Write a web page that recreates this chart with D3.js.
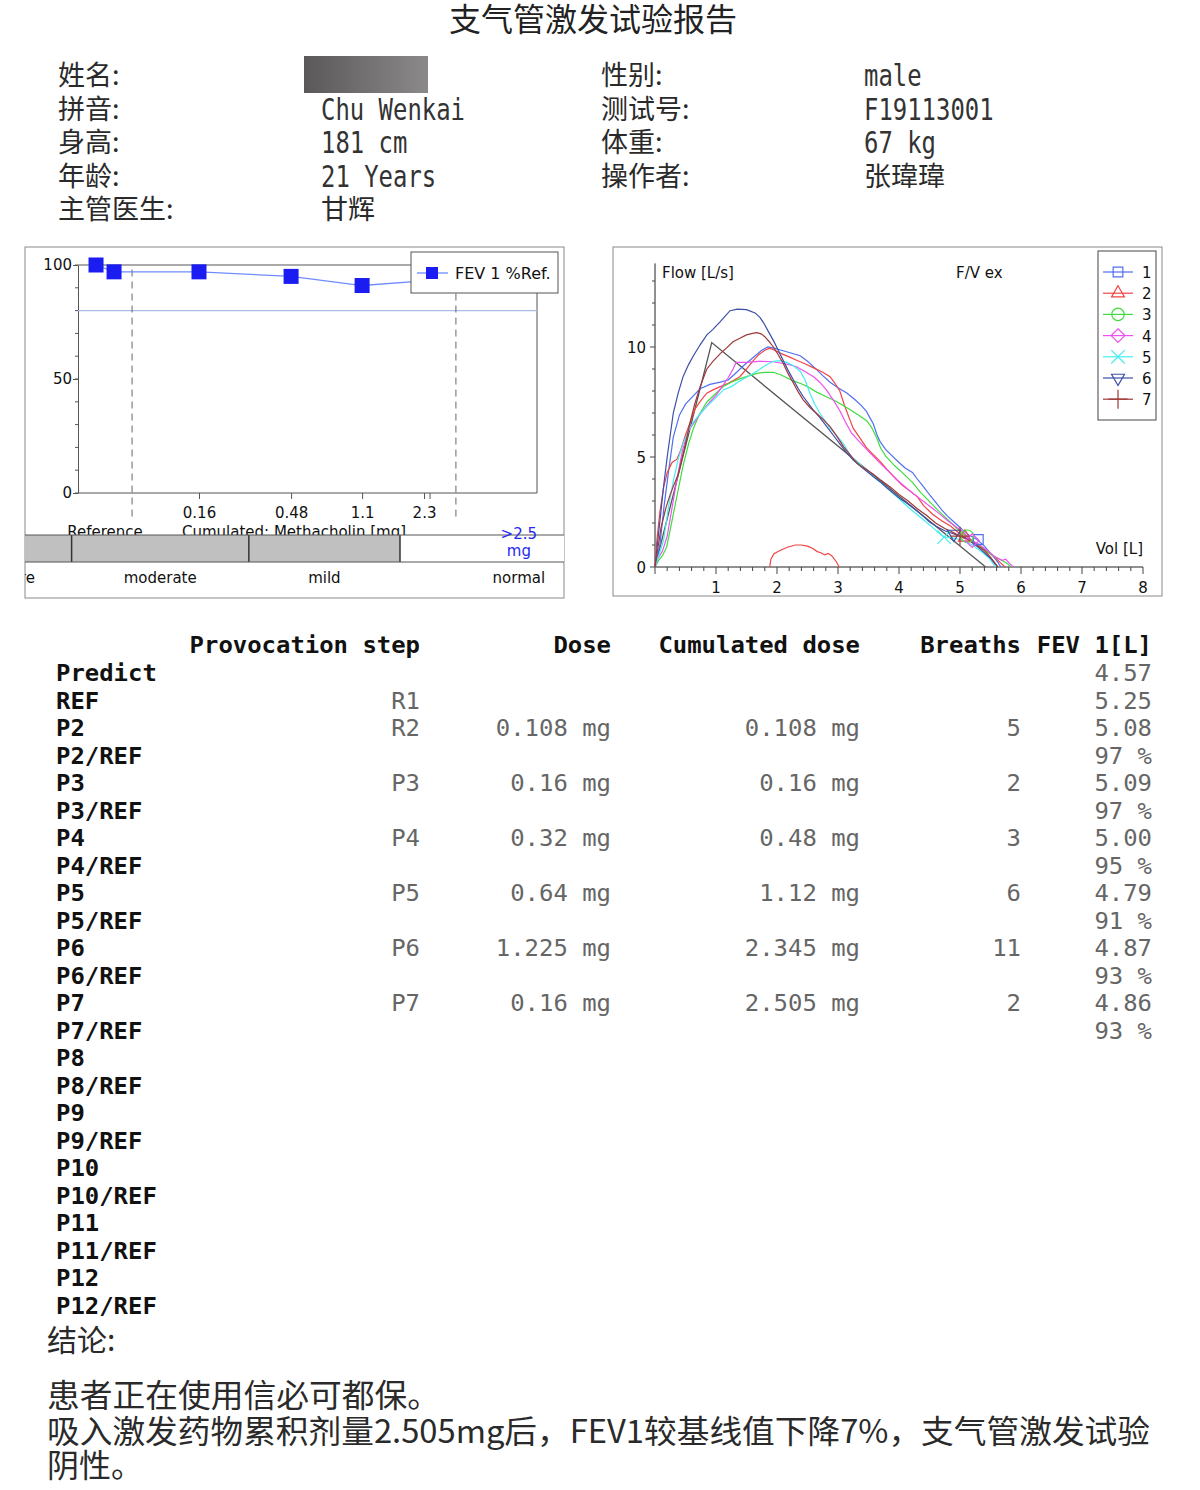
<!DOCTYPE html>
<html>
<head>
<meta charset="utf-8">
<script src="https://cdn.jsdelivr.net/npm/d3@7"></script>
<style>
body { margin: 0; background: #fff; }
</style>
</head>
<body>
<svg id="page" width="1200" height="1490"></svg>
<script>
// ---- data ----
var title = "支气管激发试验报告";
var infoLeft = [["姓名:", null], ["拼音:", "Chu Wenkai"], ["身高:", "181 cm"], ["年龄:", "21 Years"], ["主管医生:", "甘辉"]];
var infoRight = [["性别:", "male"], ["测试号:", "F19113001"], ["体重:", "67 kg"], ["操作者:", "张瑋瑋"]];

var fevPredict = 4.57;
var stepCodes = ["R1", "R2", "P3", "P4", "P5", "P6", "P7"];
var stepDose = [null, 0.108, 0.16, 0.32, 0.64, 1.225, 0.16];
var stepCumDose = [null, 0.108, 0.16, 0.48, 1.12, 2.345, 2.505];
var stepBreaths = [null, 5, 2, 3, 6, 11, 2];
var stepFev1 = [5.25, 5.08, 5.09, 5.00, 4.79, 4.87, 4.86];
var stepPctRef = [100, 97, 97, 95, 91, 93, 93];
var rowNames = ["Predict", "REF", "P2", "P2/REF", "P3", "P3/REF", "P4", "P4/REF", "P5", "P5/REF",
    "P6", "P6/REF", "P7", "P7/REF", "P8", "P8/REF", "P9", "P9/REF", "P10", "P10/REF",
    "P11", "P11/REF", "P12", "P12/REF"];
var tableHead = ["Provocation step", "Dose", "Cumulated dose", "Breaths", "FEV 1[L]"];

// dose axis of the left chart
var doseTicks = [0.16, 0.48, 1.12, 2.345, 2.505];
var doseTickLabels = ["0.16", "0.48", "1.1", "2.3", ""];
var zoneBreaks = [0.072, 3.43];            // reference zone | tested | beyond
var gradeNames = ["severe", "moderate", "mild", "normal"];
var gradeBounds = [0.008, 0.035, 0.29, 1.76, 30];
var limitPct = 80;

// flow volume loops (vol L, flow L/s)
var loopNames = ["1", "2", "3", "4", "5", "6", "7"];
var loopColors = ["#4f6ff0", "#f04545", "#3fdc3f", "#f050f0", "#45eeee", "#3d4fa8", "#a03838"];
var loop1 = [[0,0],[0.08,1.0],[0.15,2.8],[0.22,4.3],[0.3,5.9],[0.4,6.9],[0.5,7.4],[0.6,7.7],[0.74,8.1],[0.9,8.3],[1.07,8.4],[1.2,8.5],[1.3,8.75],[1.45,9.15],[1.6,9.5],[1.75,9.85],[1.85,10.0],[1.95,9.95],[2.07,9.85],[2.2,9.75],[2.38,9.6],[2.5,9.35],[2.62,9.05],[2.75,8.7],[2.87,8.4],[3.0,8.15],[3.15,7.9],[3.28,7.6],[3.38,7.35],[3.46,7.1],[3.52,6.8],[3.58,6.5],[3.64,6.0],[3.69,5.7],[3.78,5.35],[3.87,5.1],[4.0,4.75],[4.1,4.5],[4.22,4.3],[4.3,4.0],[4.4,3.65],[4.51,3.25],[4.6,2.95],[4.7,2.6],[4.8,2.3],[4.92,2.0],[5.04,1.7],[5.15,1.45],[5.28,1.25],[5.4,0.95],[5.51,0.6],[5.6,0.3],[5.67,0]];
var loop2 = [[0,0],[0.03,1.2],[0.08,2.5],[0.14,3.6],[0.2,4.3],[0.28,4.75],[0.36,4.9],[0.42,5.3],[0.5,6.0],[0.58,6.6],[0.66,7.2],[0.76,7.6],[0.85,7.9],[0.95,8.05],[1.07,8.2],[1.2,8.35],[1.3,8.5],[1.39,8.65],[1.5,9.0],[1.6,9.35],[1.7,9.65],[1.8,9.85],[1.88,9.95],[1.96,9.85],[2.07,9.7],[2.2,9.55],[2.32,9.4],[2.45,9.25],[2.6,9.05],[2.75,8.85],[2.87,8.65],[2.95,8.35],[3.03,8.0],[3.1,7.4],[3.18,6.8],[3.25,6.3],[3.35,5.9],[3.46,5.45],[3.58,5.1],[3.69,4.8],[3.8,4.45],[3.92,4.1],[4.04,3.75],[4.18,3.45],[4.3,3.2],[4.4,2.8],[4.55,2.4],[4.7,2.1],[4.85,1.85],[5.0,1.5],[5.08,1.35],[5.2,1.2],[5.3,1.0],[5.42,0.75],[5.57,0.45],[5.66,0.2],[5.74,0]];
var loop3 = [[0,0],[0.06,0.3],[0.12,0.5],[0.19,0.9],[0.25,1.7],[0.3,2.4],[0.38,3.5],[0.46,4.6],[0.55,5.6],[0.63,6.3],[0.72,6.9],[0.85,7.5],[1.0,7.9],[1.12,8.2],[1.25,8.4],[1.39,8.55],[1.55,8.7],[1.67,8.8],[1.8,8.85],[1.94,8.85],[2.05,8.75],[2.16,8.6],[2.27,8.45],[2.38,8.35],[2.5,8.2],[2.65,7.95],[2.8,7.75],[2.92,7.6],[3.05,7.4],[3.2,7.15],[3.34,6.9],[3.47,6.65],[3.55,6.35],[3.63,5.9],[3.7,5.4],[3.78,5.05],[3.93,4.6],[4.05,4.3],[4.22,3.85],[4.35,3.4],[4.51,2.95],[4.65,2.55],[4.8,2.15],[4.95,1.75],[5.1,1.4],[5.25,1.1],[5.39,0.8],[5.55,0.5],[5.69,0.3],[5.78,0.15],[5.83,0]];
var loop4 = [[0,0],[0.05,0.4],[0.12,0.7],[0.2,1.4],[0.28,2.7],[0.36,4.0],[0.45,5.3],[0.55,6.2],[0.65,6.6],[0.78,7.1],[0.9,7.5],[1.0,7.8],[1.1,8.2],[1.2,8.6],[1.28,9.0],[1.33,9.3],[1.5,9.3],[1.7,9.35],[1.94,9.33],[2.1,9.25],[2.2,9.2],[2.32,9.1],[2.45,8.9],[2.6,8.65],[2.7,8.4],[2.81,8.05],[2.92,7.6],[3.03,7.1],[3.12,6.6],[3.22,6.1],[3.35,5.7],[3.52,5.2],[3.66,4.8],[3.81,4.4],[3.95,4.0],[4.16,3.5],[4.3,3.2],[4.51,2.75],[4.65,2.45],[4.8,2.1],[4.95,1.8],[5.05,1.6],[5.16,1.25],[5.3,1.05],[5.45,0.75],[5.58,0.45],[5.69,0.3],[5.75,0.35],[5.8,0.2],[5.87,0]];
var loop5 = [[0,0],[0.06,0.5],[0.14,1.2],[0.22,2.7],[0.3,3.9],[0.38,4.9],[0.46,5.6],[0.55,6.2],[0.63,6.6],[0.75,7.0],[0.85,7.3],[1.0,7.7],[1.12,8.05],[1.25,8.2],[1.39,8.45],[1.55,8.7],[1.67,8.9],[1.8,9.15],[1.94,9.35],[2.05,9.38],[2.16,9.3],[2.27,9.15],[2.38,8.9],[2.46,8.5],[2.54,7.9],[2.62,7.4],[2.7,7.0],[2.8,6.6],[2.87,6.3],[3.0,5.9],[3.09,5.6],[3.22,5.0],[3.31,4.8],[3.45,4.45],[3.63,4.0],[3.8,3.6],[4.04,3.0],[4.2,2.6],[4.4,2.15],[4.55,1.8],[4.69,1.45],[4.74,1.36],[4.85,1.35],[5.0,1.25],[5.2,1.0],[5.35,0.7],[5.48,0.4],[5.58,0]];
var loop6 = [[0,0],[0.05,1.3],[0.1,2.6],[0.14,3.65],[0.2,5.0],[0.25,6.0],[0.3,7.0],[0.38,7.9],[0.46,8.65],[0.55,9.2],[0.63,9.6],[0.74,10.1],[0.85,10.55],[0.95,10.8],[1.07,11.15],[1.15,11.4],[1.23,11.65],[1.35,11.72],[1.5,11.7],[1.64,11.55],[1.72,11.35],[1.78,11.1],[1.86,10.7],[1.94,10.3],[2.02,9.85],[2.1,9.4],[2.18,8.95],[2.27,8.5],[2.35,8.1],[2.43,7.75],[2.59,7.15],[2.7,6.8],[2.81,6.4],[2.92,6.0],[3.03,5.6],[3.14,5.2],[3.25,4.86],[3.36,4.6],[3.47,4.35],[3.58,4.1],[3.69,3.88],[3.8,3.6],[3.91,3.35],[4.02,3.1],[4.13,2.9],[4.27,2.6],[4.4,2.3],[4.5,2.05],[4.61,1.85],[4.75,1.65],[4.9,1.5],[5.0,1.4],[5.1,1.3],[5.2,1.1],[5.3,0.9],[5.4,0.65],[5.5,0.4],[5.57,0.15],[5.62,0]];
var loop7 = [[0,0],[0.05,0.9],[0.1,1.8],[0.18,2.7],[0.25,3.3],[0.32,3.8],[0.38,4.2],[0.44,4.9],[0.5,5.6],[0.57,6.5],[0.65,7.4],[0.74,8.2],[0.85,9.0],[0.95,9.35],[1.07,9.7],[1.17,9.95],[1.28,10.24],[1.39,10.4],[1.5,10.55],[1.6,10.62],[1.67,10.65],[1.74,10.6],[1.8,10.47],[1.87,10.25],[1.94,10.0],[2.02,9.65],[2.1,9.26],[2.18,8.8],[2.27,8.35],[2.35,7.95],[2.43,7.6],[2.54,7.25],[2.65,6.98],[2.76,6.7],[2.87,6.38],[2.98,5.95],[3.09,5.47],[3.2,5.1],[3.31,4.71],[3.45,4.45],[3.58,4.22],[3.7,3.95],[3.85,3.65],[4.0,3.3],[4.15,3.0],[4.3,2.65],[4.45,2.35],[4.6,2.0],[4.75,1.75],[4.9,1.55],[5.0,1.4],[5.12,1.25],[5.25,1.05],[5.4,0.75],[5.5,0.45],[5.58,0.15],[5.62,0]];
var loopMarkers = [[5.3,1.25],[5.08,1.35],[5.12,1.4],[5.2,1.2],[4.74,1.36],[4.9,1.5],[5.0,1.4]];
var predictedLoop = [[0,0],[0.93,10.2],[5.42,0]];
var inspBlip = [[1.88,0],[1.9,0.35],[1.95,0.6],[2.05,0.75],[2.17,0.9],[2.3,1.0],[2.4,1.0],[2.5,0.95],[2.58,0.85],[2.66,0.7],[2.72,0.65],[2.78,0.55],[2.84,0.62],[2.9,0.5],[2.97,0.25],[3.02,0]];
var loops = [loop1, loop2, loop3, loop4, loop5, loop6, loop7];

var conclusionHead = "结论:";
var conclusionLines = ["患者正在使用信必可都保。",
    "吸入激发药物累积剂量2.505mg后，FEV1较基线值下降7%，支气管激发试验",
    "阴性。"];

// ---- fonts ----
var CJK = '"Noto Sans CJK SC", sans-serif';
var MONO = '"DejaVu Sans Mono", monospace';
var SANS = '"DejaVu Sans", Verdana, sans-serif';

var svg = d3.select("#page");
svg.append("rect").attr("width", 1200).attr("height", 1490).attr("fill", "#fff");
var defs = svg.append("defs");

// condensed mono text like the report print
function monoText(g, str, x, y, size, charW, anchor) {
    return g.append("text").attr("x", x).attr("y", y)
        .attr("font-family", MONO).attr("font-size", size)
        .attr("text-anchor", anchor || "start")
        .attr("textLength", str.length * charW).attr("lengthAdjust", "spacingAndGlyphs")
        .text(str);
}

// ---- title + patient info ----
svg.append("text").attr("x", 593).attr("y", 31).attr("text-anchor", "middle")
    .attr("font-family", CJK).attr("font-size", 32).attr("fill", "#222").text(title);

var rowY = [75, 109, 142, 176, 209];
var grad = defs.append("linearGradient").attr("id", "redact");
grad.append("stop").attr("offset", "0%").attr("stop-color", "#5a5858");
grad.append("stop").attr("offset", "100%").attr("stop-color", "#8b8989");

function infoBlock(rows, xLab, xVal) {
    rows.forEach(function (r, i) {
        svg.append("text").attr("x", xLab).attr("y", rowY[i] + 10)
            .attr("font-family", CJK).attr("font-size", 27).attr("fill", "#2a2a2a").text(r[0]);
        if (r[1] === null) {
            svg.append("rect").attr("x", xVal - 17).attr("y", rowY[i] - 19)
                .attr("width", 124).attr("height", 37).attr("fill", "url(#redact)");
        } else if (/[\u4e00-\u9fff]/.test(r[1])) {
            svg.append("text").attr("x", xVal).attr("y", rowY[i] + 10)
                .attr("font-family", CJK).attr("font-size", 27).attr("fill", "#2a2a2a").text(r[1]);
        } else {
            monoText(svg, r[1], xVal, rowY[i] + 11, 30, 14.4).attr("fill", "#333");
        }
    });
}
infoBlock(infoLeft, 58, 321);
infoBlock(infoRight, 601, 864);

// ---- left chart: FEV1 %Ref vs cumulated dose ----
var lc = svg.append("g");
defs.append("clipPath").attr("id", "lclip").append("rect")
    .attr("x", 25).attr("y", 247).attr("width", 539).attr("height", 351);
lc.append("rect").attr("x", 25).attr("y", 247).attr("width", 539).attr("height", 351)
    .attr("fill", "#fff").attr("stroke", "#8a8a8a");

var yPct = d3.scaleLinear().domain([0, 100]).range([493, 265]);
var xDose = d3.scaleLog().domain([0.16, 1.6]).range([199, 392]);
var xRef = d3.scalePoint().domain(stepCodes.slice(0, 2)).range([78, xDose(zoneBreaks[0])]).padding(1);
var plotL = 78, plotR = 537;

// frame
lc.append("line").attr("x1", plotL).attr("x2", plotR).attr("y1", yPct(100)).attr("y2", yPct(100)).attr("stroke", "#555");
lc.append("line").attr("x1", plotR).attr("x2", plotR).attr("y1", yPct(100)).attr("y2", yPct(0)).attr("stroke", "#555");
lc.append("line").attr("x1", plotL).attr("x2", plotR).attr("y1", yPct(0)).attr("y2", yPct(0)).attr("stroke", "#555");

// y axis
var yAxL = lc.append("g").attr("transform", "translate(" + plotL + ",0)")
    .call(d3.axisLeft(yPct).tickValues([0, 50, 100]).tickSize(5).tickSizeOuter(0).tickPadding(1));
yAxL.attr("font-family", SANS).attr("font-size", 15);
yAxL.select(".domain").attr("stroke", "#555");
yAxL.selectAll("line").attr("stroke", "#555");
yAxL.selectAll("text").attr("fill", "#111");
lc.selectAll(".yminor").data(d3.range(0, 101, 10)).enter().append("line")
    .attr("x1", plotL - 3).attr("x2", plotL).attr("y1", yPct).attr("y2", yPct).attr("stroke", "#555");

// x axis ticks
var xAxL = lc.append("g").attr("transform", "translate(0," + yPct(0) + ")")
    .call(d3.axisBottom(xDose).tickValues(doseTicks).tickSize(6).tickSizeOuter(0).tickPadding(8)
        .tickFormat(function (d, i) { return doseTickLabels[i]; }));
xAxL.select(".domain").remove();
xAxL.attr("font-family", SANS).attr("font-size", 15);
xAxL.selectAll("line").attr("stroke", "#555");
xAxL.selectAll("text").attr("fill", "#111");

// limit line and zone dividers
lc.append("line").attr("x1", plotL).attr("x2", plotR).attr("y1", yPct(limitPct)).attr("y2", yPct(limitPct))
    .attr("stroke", "#a9bbe8").attr("stroke-width", 1.2);
lc.selectAll(".zone").data(zoneBreaks).enter().append("line")
    .attr("x1", xDose).attr("x2", xDose).attr("y1", yPct(98)).attr("y2", yPct(0) + 25)
    .attr("stroke", "#666").attr("stroke-dasharray", "7,5");

// axis titles
lc.append("text").attr("x", (plotL + xDose(zoneBreaks[0])) / 2).attr("y", 537).attr("text-anchor", "middle")
    .attr("font-family", SANS).attr("font-size", 15).attr("fill", "#111").text("Reference");
lc.append("text").attr("x", (xDose(zoneBreaks[0]) + xDose(zoneBreaks[1])) / 2).attr("y", 537).attr("text-anchor", "middle")
    .attr("font-family", SANS).attr("font-size", 15).attr("fill", "#111").text("Cumulated: Methacholin [mg]");

// FEV1 series
var pctPts = [];
stepCodes.forEach(function (c, i) {
    var x = i < 2 ? xRef(c) : xDose(stepCumDose[i]);
    pctPts.push([x, yPct(stepPctRef[i])]);
});
lc.append("path").datum(pctPts).attr("d", d3.line()).attr("fill", "none")
    .attr("stroke", "#6f8cff").attr("stroke-width", 1.3);
lc.selectAll(".pt").data(pctPts).enter().append("rect")
    .attr("x", function (d) { return d[0] - 7.5; }).attr("y", function (d) { return d[1] - 7.5; })
    .attr("width", 15).attr("height", 15).attr("fill", "#1a1cf2");

// legend
lc.append("rect").attr("x", 411).attr("y", 252).attr("width", 147).attr("height", 41)
    .attr("fill", "#fff").attr("stroke", "#555");
lc.append("line").attr("x1", 417).attr("x2", 448).attr("y1", 273).attr("y2", 273).attr("stroke", "#6f8cff").attr("stroke-width", 1.3);
lc.append("rect").attr("x", 426).attr("y", 267).attr("width", 12).attr("height", 12).attr("fill", "#1a1cf2");
lc.append("text").attr("x", 455).attr("y", 279).attr("font-family", SANS).attr("font-size", 16)
    .attr("fill", "#111").text("FEV 1 %Ref.");

// severity band
var band = lc.append("g").attr("clip-path", "url(#lclip)");
band.append("rect").attr("x", 25).attr("y", 535).attr("width", 539).attr("height", 27).attr("fill", "#fff");
band.selectAll(".grade").data(gradeNames).enter().append("rect")
    .attr("x", function (d, i) { return xDose(gradeBounds[i]); })
    .attr("width", function (d, i) { return xDose(gradeBounds[i + 1]) - xDose(gradeBounds[i]); })
    .attr("y", 535).attr("height", 27)
    .attr("fill", function (d) { return d === "normal" ? "#fff" : "#c0c0c0"; });
band.selectAll(".gdiv").data(gradeBounds.slice(1, 4)).enter().append("line")
    .attr("x1", xDose).attr("x2", xDose).attr("y1", 535).attr("y2", 562)
    .attr("stroke", "#333").attr("stroke-width", 1.5);
band.append("line").attr("x1", 25).attr("x2", 564).attr("y1", 535).attr("y2", 535).attr("stroke", "#555");
band.append("line").attr("x1", 25).attr("x2", 564).attr("y1", 562).attr("y2", 562).attr("stroke", "#555");
band.selectAll(".glab").data(gradeNames).enter().append("text")
    .attr("x", function (d, i) { return (xDose(gradeBounds[i]) + xDose(gradeBounds[i + 1])) / 2; })
    .attr("y", 583).attr("text-anchor", "middle")
    .attr("font-family", SANS).attr("font-size", 15).attr("fill", "#111").text(function (d) { return d; });
var normalX = (xDose(gradeBounds[3]) + xDose(gradeBounds[4])) / 2;
band.append("text").attr("x", normalX).attr("y", 539).attr("text-anchor", "middle")
    .attr("font-family", SANS).attr("font-size", 15).attr("fill", "#1f2af0").text(">2.5");
band.append("text").attr("x", normalX).attr("y", 556).attr("text-anchor", "middle")
    .attr("font-family", SANS).attr("font-size", 15).attr("fill", "#1f2af0").text("mg");

// ---- right chart: flow volume ----
var rc = svg.append("g");
rc.append("rect").attr("x", 613).attr("y", 247).attr("width", 549).attr("height", 349)
    .attr("fill", "#fff").attr("stroke", "#8a8a8a");
var xVol = d3.scaleLinear().domain([0, 8]).range([655, 1143]);
var yFlow = d3.scaleLinear().domain([0, 10]).range([567, 347]);
var flowTop = 13.8;

rc.append("line").attr("x1", xVol(0)).attr("x2", xVol(0)).attr("y1", yFlow(0)).attr("y2", yFlow(flowTop)).attr("stroke", "#222");
rc.append("line").attr("x1", xVol(0)).attr("x2", xVol(8)).attr("y1", yFlow(0)).attr("y2", yFlow(0)).attr("stroke", "#222");
rc.selectAll(".ytk").data(d3.range(0, 14)).enter().append("line")
    .attr("x1", function (d) { return xVol(0) - (d % 5 === 0 ? 5 : 3); }).attr("x2", xVol(0))
    .attr("y1", yFlow).attr("y2", yFlow).attr("stroke", "#444");
rc.selectAll(".ylab").data([0, 5, 10]).enter().append("text")
    .attr("x", xVol(0) - 9).attr("y", function (d) { return yFlow(d) + 6; }).attr("text-anchor", "end")
    .attr("font-family", SANS).attr("font-size", 15).attr("fill", "#111").text(function (d) { return d; });
rc.selectAll(".xtk").data(d3.range(0, 40.5).map(function (k) { return k / 5; })).enter().append("line")
    .attr("x1", xVol).attr("x2", xVol).attr("y1", yFlow(0))
    .attr("y2", function (d, k) { return yFlow(0) + (k % 5 === 0 ? 7 : 4); }).attr("stroke", "#444");
rc.selectAll(".xlab").data(d3.range(1, 9)).enter().append("text")
    .attr("x", xVol).attr("y", 593).attr("text-anchor", "middle")
    .attr("font-family", SANS).attr("font-size", 15).attr("fill", "#111").text(function (d) { return d; });

rc.append("text").attr("x", 662).attr("y", 278).attr("font-family", SANS).attr("font-size", 15).attr("fill", "#111").text("Flow [L/s]");
rc.append("text").attr("x", 956).attr("y", 278).attr("font-family", SANS).attr("font-size", 15).attr("fill", "#111").text("F/V ex");
rc.append("text").attr("x", 1143).attr("y", 554).attr("text-anchor", "end").attr("font-family", SANS).attr("font-size", 15).attr("fill", "#111").text("Vol [L]");

var flowLine = d3.line().x(function (d) { return xVol(d[0]); }).y(function (d) { return yFlow(d[1]); });
rc.append("path").datum(predictedLoop).attr("d", flowLine).attr("fill", "none").attr("stroke", "#555").attr("stroke-width", 1.3);
rc.append("path").datum(inspBlip).attr("d", flowLine).attr("fill", "none").attr("stroke", loopColors[1]).attr("stroke-width", 1.2);
loops.forEach(function (lp, i) {
    rc.append("path").datum(lp).attr("d", flowLine).attr("fill", "none")
        .attr("stroke", loopColors[i]).attr("stroke-width", 1.2);
});

var symTypes = [d3.symbolSquare2, d3.symbolTriangle2, d3.symbolCircle, d3.symbolDiamond2, d3.symbolTimes, d3.symbolTriangle2, d3.symbolPlus];
function symbolAt(g, i, x, y, size) {
    g.append("path").attr("d", d3.symbol().type(symTypes[i]).size(size)())
        .attr("transform", "translate(" + x + "," + y + ")" + (i === 5 ? " rotate(180)" : ""))
        .attr("fill", "none").attr("stroke", loopColors[i]).attr("stroke-width", 1.2);
}
loopMarkers.forEach(function (m, i) { symbolAt(rc, i, xVol(m[0]), yFlow(m[1]), 120); });

// loop legend
rc.append("rect").attr("x", 1098).attr("y", 251).attr("width", 58).attr("height", 169)
    .attr("fill", "#fff").attr("stroke", "#444");
loopNames.forEach(function (n, i) {
    var y = 272 + i * 21.2;
    rc.append("line").attr("x1", 1103).attr("x2", 1133).attr("y1", y).attr("y2", y)
        .attr("stroke", loopColors[i]).attr("stroke-width", 1.2);
    symbolAt(rc, i, 1118, y, 120);
    rc.append("text").attr("x", 1142).attr("y", y + 6).attr("font-family", SANS).attr("font-size", 15)
        .attr("fill", "#111").text(n);
});

// ---- results table ----
var tbl = svg.append("g");
var colRight = [420, 611, 860, 1021, 1152];
var headY = 645, row0 = 673, rowStep = 27.52;
tableHead.forEach(function (h, i) {
    monoText(tbl, h, colRight[i], headY + 8, 23, 14.4, "end").attr("font-weight", "bold").attr("fill", "#111");
});
rowNames.forEach(function (n, r) {
    monoText(tbl, n, 56, row0 + r * rowStep + 8, 23, 14.4).attr("font-weight", "bold").attr("fill", "#111");
});
function cell(r, c, str) {
    monoText(tbl, str, colRight[c], row0 + r * rowStep + 8, 23, 14.4, "end").attr("fill", "#666");
}
cell(0, 4, fevPredict.toFixed(2));
stepCodes.forEach(function (code, k) {
    var r = k === 0 ? 1 : 2 * k;
    cell(r, 0, code);
    if (stepDose[k] !== null) cell(r, 1, stepDose[k] + " mg");
    if (stepCumDose[k] !== null) cell(r, 2, stepCumDose[k] + " mg");
    if (stepBreaths[k] !== null) cell(r, 3, String(stepBreaths[k]));
    cell(r, 4, stepFev1[k].toFixed(2));
    if (k > 0) cell(r + 1, 4, stepPctRef[k] + " %");
});

// ---- conclusion ----
svg.append("text").attr("x", 47).attr("y", 1351).attr("font-family", CJK).attr("font-size", 30)
    .attr("fill", "#2a2a2a").text(conclusionHead);
var concY = [1407, 1443, 1477];
conclusionLines.forEach(function (t, i) {
    var tx = svg.append("text").attr("x", 47).attr("y", concY[i]).attr("font-family", CJK)
        .attr("font-size", 32).attr("fill", "#2a2a2a").text(t);
    if (i === 1) tx.attr("textLength", 1103).attr("lengthAdjust", "spacingAndGlyphs");
    if (i === 0) tx.attr("textLength", 393).attr("lengthAdjust", "spacingAndGlyphs");
});
</script>
</body>
</html>
